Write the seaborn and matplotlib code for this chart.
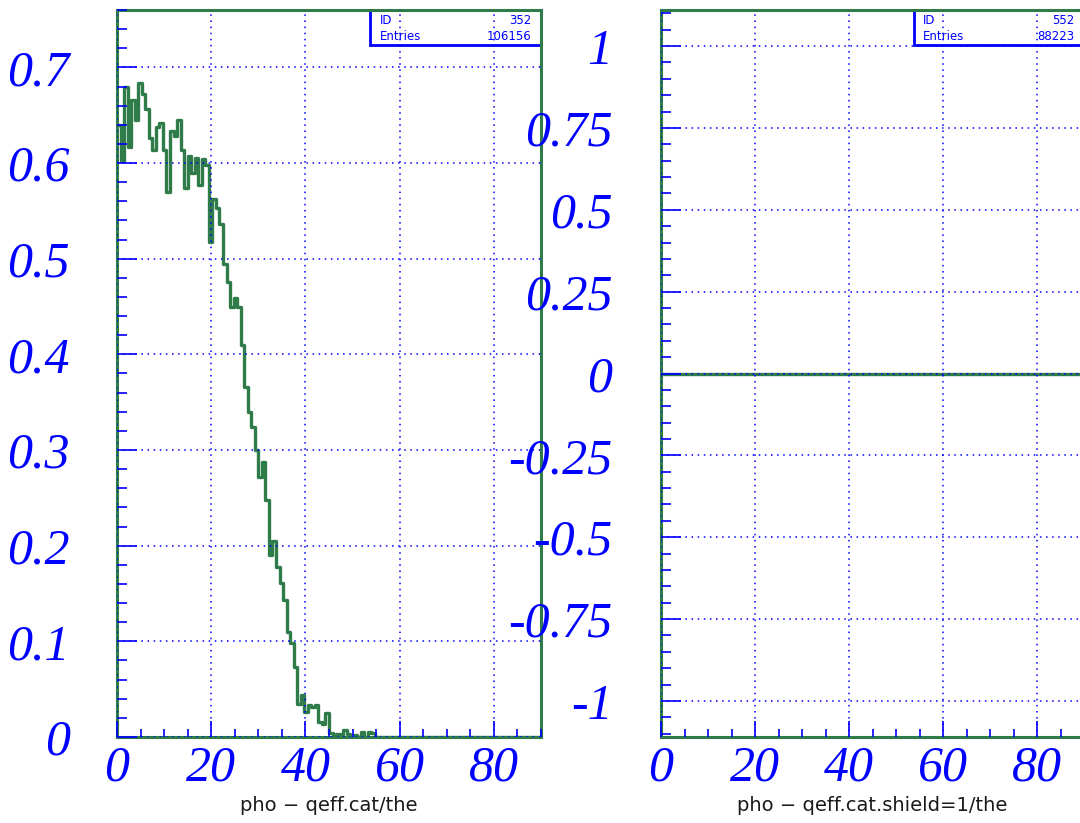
import numpy as np
import pandas as pd
import matplotlib
matplotlib.use("Agg")
import matplotlib.pyplot as plt
import seaborn as sns
from matplotlib.patches import Rectangle
from matplotlib.ticker import MultipleLocator, FixedLocator, FixedFormatter

# histogram binning (120 bins of 0.75 deg over 0..90)
bin_width = 0.75
x_range = (0, 90)

# h352: photon efficiency vs theta (per bin)
eff_352 = [
    0.640, 0.602, 0.679, 0.617, 0.666, 0.645, 0.684, 0.672, 0.656, 0.626,
    0.614, 0.638, 0.642, 0.614, 0.570, 0.633, 0.628, 0.645, 0.614, 0.574,
    0.607, 0.590, 0.605, 0.577, 0.604, 0.598, 0.517, 0.562, 0.553, 0.536,
    0.494, 0.476, 0.450, 0.459, 0.449, 0.410, 0.366, 0.340, 0.324, 0.300,
    0.272, 0.287, 0.248, 0.190, 0.205, 0.178, 0.161, 0.143, 0.110, 0.098,
    0.073, 0.035, 0.044, 0.026, 0.033, 0.031, 0.033, 0.016, 0.014, 0.025,
    0.004, 0.000, 0.003, 0.000, 0.007, 0.003, 0.000, 0.002, 0.000, 0.005,
    0.000, 0.005, 0.004, 0.000, 0.000, 0.000, 0.000, 0.000, 0.000, 0.000,
    0.000, 0.000, 0.000, 0.000, 0.000, 0.000, 0.000, 0.000, 0.000, 0.000,
    0.000, 0.000, 0.000, 0.000, 0.000, 0.000, 0.000, 0.000, 0.000, 0.000,
    0.000, 0.000, 0.000, 0.000, 0.000, 0.000, 0.000, 0.000, 0.000, 0.000,
    0.000, 0.000, 0.000, 0.000, 0.000, 0.000, 0.000, 0.000, 0.000, 0.000,
]
# h552: shield=1 selection, empty
eff_552 = [0.0] * 120

hist_ids = ["352", "552"]
hist_entries = ["106156", "88223"]
x_titles = ["pho \u2212 qeff.cat/the", "pho \u2212 qeff.cat.shield=1/the"]

x_ticks = [0, 20, 40, 60, 80]
left_yticks = [0, 0.1, 0.2, 0.3, 0.4, 0.5, 0.6, 0.7]
left_ylabels = ["0", "0.1", "0.2", "0.3", "0.4", "0.5", "0.6", "0.7"]
right_yticks = [-1, -0.75, -0.5, -0.25, 0, 0.25, 0.5, 0.75, 1]
right_ylabels = ["-1", "-0.75", "-0.5", "-0.25", "0", "0.25", "0.5", "0.75", "1"]

GREEN = "#2f7b4a"
BLUE = "#0000ff"

sns.set_style("white")
plt.rcParams["font.family"] = ["DejaVu Sans"]

fig = plt.figure(figsize=(10.8, 8.23), dpi=100)
ax1 = fig.add_axes([117 / 1080, 1 - 737 / 823, 424 / 1080, 727 / 823])
ax2 = fig.add_axes([661 / 1080, 1 - 737 / 823, 423 / 1080, 727 / 823])

n_bins = len(eff_352)
centers = x_range[0] + bin_width * (np.arange(n_bins) + 0.5)
tick_font = dict(family="Liberation Serif", style="italic", size=36, color=BLUE)


def draw_panel(ax, values, ylim, yticks, ylabels, yminor, hid, entries, title, ypad):
    df = pd.DataFrame({"the": centers, "eff": values})
    sns.histplot(data=df, x="the", weights="eff", binwidth=bin_width,
                 binrange=x_range, element="step", fill=False, color=GREEN,
                 linewidth=2.4, ax=ax)
    ax.set_xlim(*x_range)
    ax.set_ylim(*ylim)
    ax.set_xlabel("")
    ax.set_ylabel("")

    ax.xaxis.set_major_locator(FixedLocator(x_ticks))
    ax.xaxis.set_major_formatter(FixedFormatter([str(t) for t in x_ticks]))
    ax.xaxis.set_minor_locator(MultipleLocator(5))
    ax.yaxis.set_major_locator(FixedLocator(yticks))
    ax.yaxis.set_major_formatter(FixedFormatter(ylabels))
    ax.yaxis.set_minor_locator(MultipleLocator(yminor))

    ax.tick_params(axis="both", which="both", left=True, bottom=True,
                   right=False, top=False)
    ax.tick_params(axis="x", which="major", direction="in", length=11.5, width=1.2,
                   color=BLUE, pad=6)
    ax.tick_params(axis="x", which="minor", direction="in", length=5.8, width=1.2,
                   color=BLUE)
    ax.tick_params(axis="y", which="major", direction="in", length=14.5, width=1.2,
                   color=BLUE, pad=ypad)
    ax.tick_params(axis="y", which="minor", direction="in", length=7.2, width=1.2,
                   color=BLUE)
    for lab in ax.get_xticklabels() + ax.get_yticklabels():
        lab.set_fontfamily(tick_font["family"])
        lab.set_fontstyle(tick_font["style"])
        lab.set_fontsize(tick_font["size"])
        lab.set_color(tick_font["color"])

    ax.set_axisbelow(False)
    ax.grid(True, which="major", color=BLUE, linestyle=(0, (1, 3)), linewidth=1.1)

    for sp in ax.spines.values():
        sp.set_color(GREEN)
        sp.set_linewidth(2.2)
        sp.set_visible(True)

    # stats box
    box = Rectangle((0.597, 0.952), 0.403, 0.048, transform=ax.transAxes,
                    facecolor="white", edgecolor=BLUE, linewidth=2, zorder=2.2,
                    clip_on=False)
    ax.add_patch(box)
    ax.text(0.62, 0.985, "ID", transform=ax.transAxes, fontsize=8.5, color=BLUE,
            ha="left", va="center", zorder=3)
    ax.text(0.978, 0.985, hid, transform=ax.transAxes, fontsize=8.5, color=BLUE,
            ha="right", va="center", zorder=3)
    ax.text(0.62, 0.963, "Entries", transform=ax.transAxes, fontsize=8.5, color=BLUE,
            ha="left", va="center", zorder=3)
    ax.text(0.978, 0.963, entries, transform=ax.transAxes, fontsize=8.5, color=BLUE,
            ha="right", va="center", zorder=3)

    ax.text(0.5, -0.094, title, transform=ax.transAxes, fontsize=14,
            color="#1a1a1a", ha="center", va="center")


draw_panel(ax1, eff_352, (0, 0.76), left_yticks, left_ylabels, 0.02,
           hist_ids[0], hist_entries[0], x_titles[0], ypad=34)
draw_panel(ax2, eff_552, (-1.11, 1.11), right_yticks, right_ylabels, 0.05,
           hist_ids[1], hist_entries[1], x_titles[1], ypad=35)

fig.savefig("out.png", dpi=100)
